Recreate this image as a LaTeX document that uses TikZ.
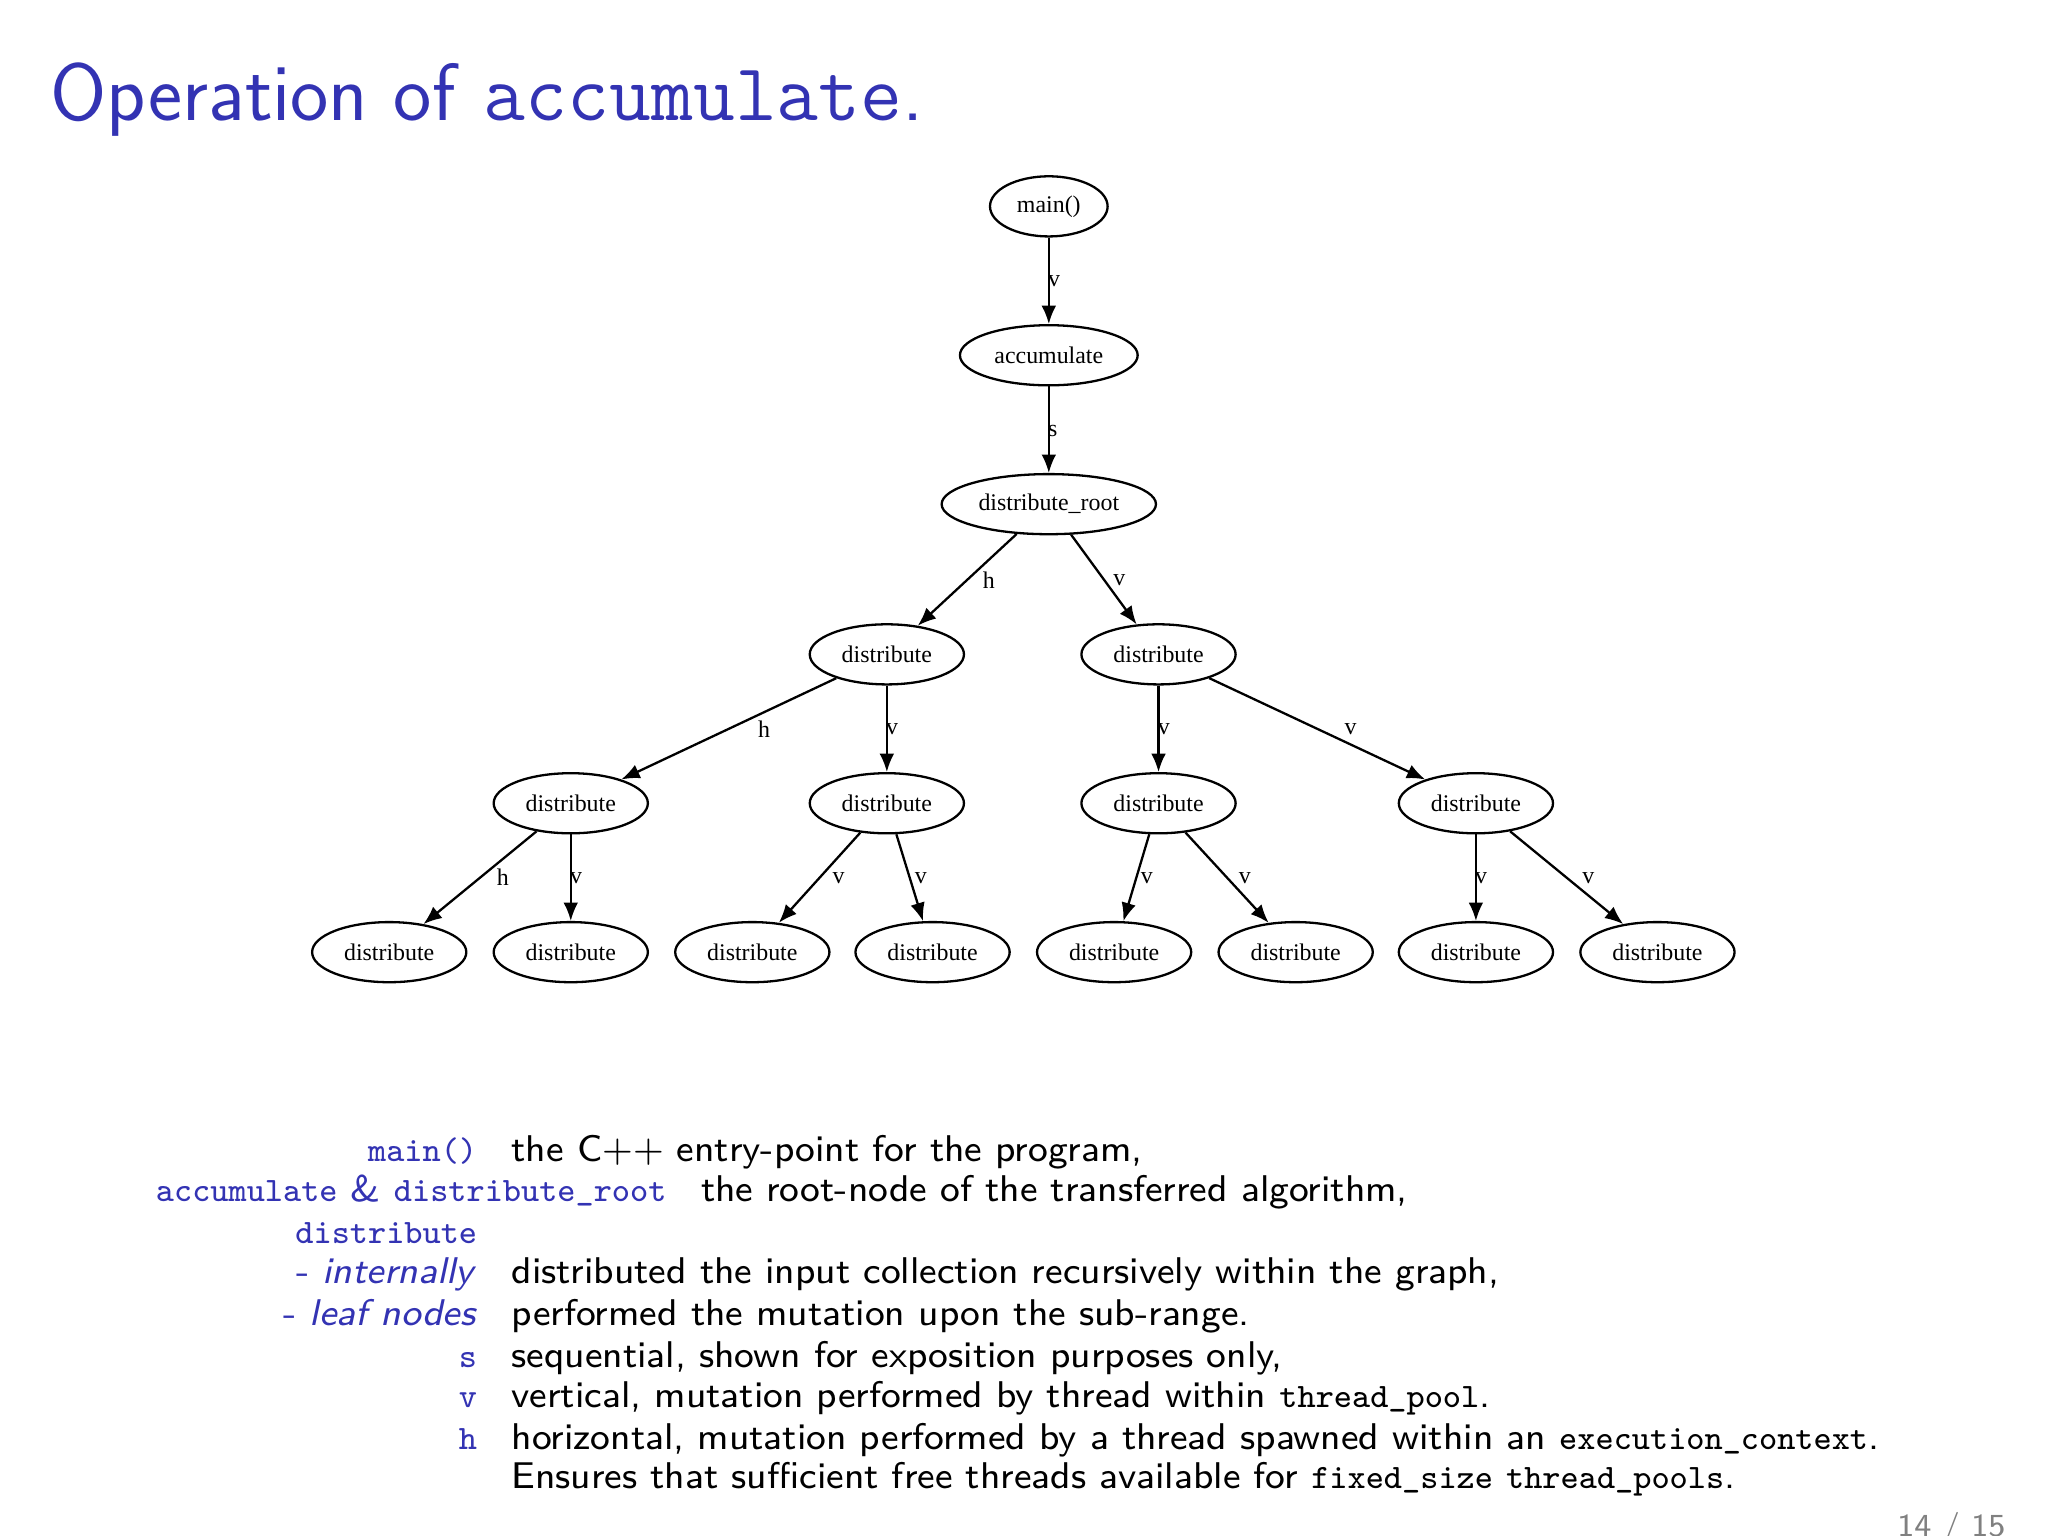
\documentclass[tikz,border=0pt]{standalone}
\usepackage{fontspec}
\newfontfamily\gvfont{Liberation Serif}
\usetikzlibrary{shapes.geometric,arrows.meta}
\definecolor{bt}{RGB}{51,51,179}
\newcommand{\mytt}[1]{{\fontsize{7.45}{9}\selectfont\ttfamily #1}}
\begin{document}
\begin{tikzpicture}[x=0.01cm,y=-0.01cm,
  gn/.style={ellipse,draw,line width=0.5pt,inner sep=0pt,minimum height=0.46cm,font=\gvfont\fontsize{5.2}{6}\selectfont},
  ge/.style={-{Latex[length=4pt,width=3.2pt]},line width=0.5pt},
  el/.style={font=\gvfont\fontsize{5.2}{6}\selectfont,inner sep=1pt},
  lab/.style={anchor=base east,inner sep=0pt,font=\sffamily\fontsize{8.1}{9}\selectfont,text=bt},
  desc/.style={anchor=base west,inner sep=0pt,font=\sffamily\fontsize{8.1}{9}\selectfont}]
\useasboundingbox (0,0) rectangle (1568,1176);
\node[anchor=base west,text=bt,font=\sffamily\fontsize{17.7}{21}\selectfont,inner sep=0] (title) at (38,92) {Operation of \texttt{accumulate}.};
\node[gn,minimum width=0.9cm] (m) at (803,158) {main()};
\node[gn,minimum width=1.36cm] (a) at (803,272) {accumulate};
\node[gn,minimum width=1.64cm] (r) at (803,386) {distribute\_root};
\foreach \n/\x/\y in {d1/679/501,d2/887/501,e1/437/615,e2/679/615,e3/887/615,e4/1130/615,
 f1/298/729,f2/437/729,f3/576/729,f4/714/729,f5/853/729,f6/992/729,f7/1130/729,f8/1269/729}
 \node[gn,minimum width=1.18cm] (\n) at (\x,\y) {distribute};
\draw[ge] (m) -- (a); \node[el] (l1) at (807,215) {v};
\draw[ge] (a) -- (r); \node[el] (l2) at (806,330) {s};
\draw[ge] (r) -- (d1); \node[el] (l3) at (757,444) {h};
\draw[ge] (r) -- (d2); \node[el] (l4) at (857,444) {v};
\draw[ge] (d1) -- (e1); \node[el] (l5) at (585,558) {h};
\draw[ge] (d1) -- (e2); \node[el] (l6) at (683,558) {v};
\draw[ge] (d2) -- (e3); \node[el] (l7) at (891,558) {v};
\draw[ge] (d2) -- (e4); \node[el] (l8) at (1034,558) {v};
\draw[ge] (e1) -- (f1); \node[el] (l9) at (385,672) {h};
\draw[ge] (e1) -- (f2); \node[el] (l10) at (441,672) {v};
\draw[ge] (e2) -- (f3); \node[el] (l11) at (642,672) {v};
\draw[ge] (e2) -- (f4); \node[el] (l12) at (705,672) {v};
\draw[ge] (e3) -- (f5); \node[el] (l13) at (878,672) {v};
\draw[ge] (e3) -- (f6); \node[el] (l14) at (953,672) {v};
\draw[ge] (e4) -- (f7); \node[el] (l15) at (1134,672) {v};
\draw[ge] (e4) -- (f8); \node[el] (l16) at (1216,672) {v};
% legend
\node[lab] (t1) at (366,889) {\mytt{main()}};
\node[desc] (u1) at (391,889) {the C++ entry-point for the program,};
\node[lab] (t2) at (511,920) {\mytt{accumulate} \& \mytt{distribute\_root}};
\node[desc] (u2) at (536,920) {the root-node of the transferred algorithm,};
\node[lab] (t3) at (366,952) {\mytt{distribute}};
\node[lab] (t4) at (366,983) {- \textit{internally}};
\node[desc] (u4) at (391,983) {distributed the input collection recursively within the graph,};
\node[lab] (t5) at (366,1015) {- \textit{leaf nodes}};
\node[desc] (u5) at (391,1015) {performed the mutation upon the sub-range.};
\node[lab] (t6) at (366,1047) {\mytt{s}};
\node[desc] (u6) at (391,1047) {sequential, shown for exposition purposes only,};
\node[lab] (t7) at (366,1078) {\mytt{v}};
\node[desc] (u7) at (391,1078) {vertical, mutation performed by thread within \mytt{thread\_pool}.};
\node[lab] (t8) at (366,1110) {\mytt{h}};
\node[desc] (u8) at (391,1110) {horizontal, mutation performed by a thread spawned within an \mytt{execution\_context}.};
\node[desc] (u9) at (391,1140) {Ensures that sufficient free threads available for \mytt{fixed\_size} \mytt{thread\_pools}.};
\node[anchor=base,text=gray,font=\sffamily\fontsize{7}{8}\selectfont] (pg) at (1494,1176) {14 / 15};
\end{tikzpicture}
\end{document}
